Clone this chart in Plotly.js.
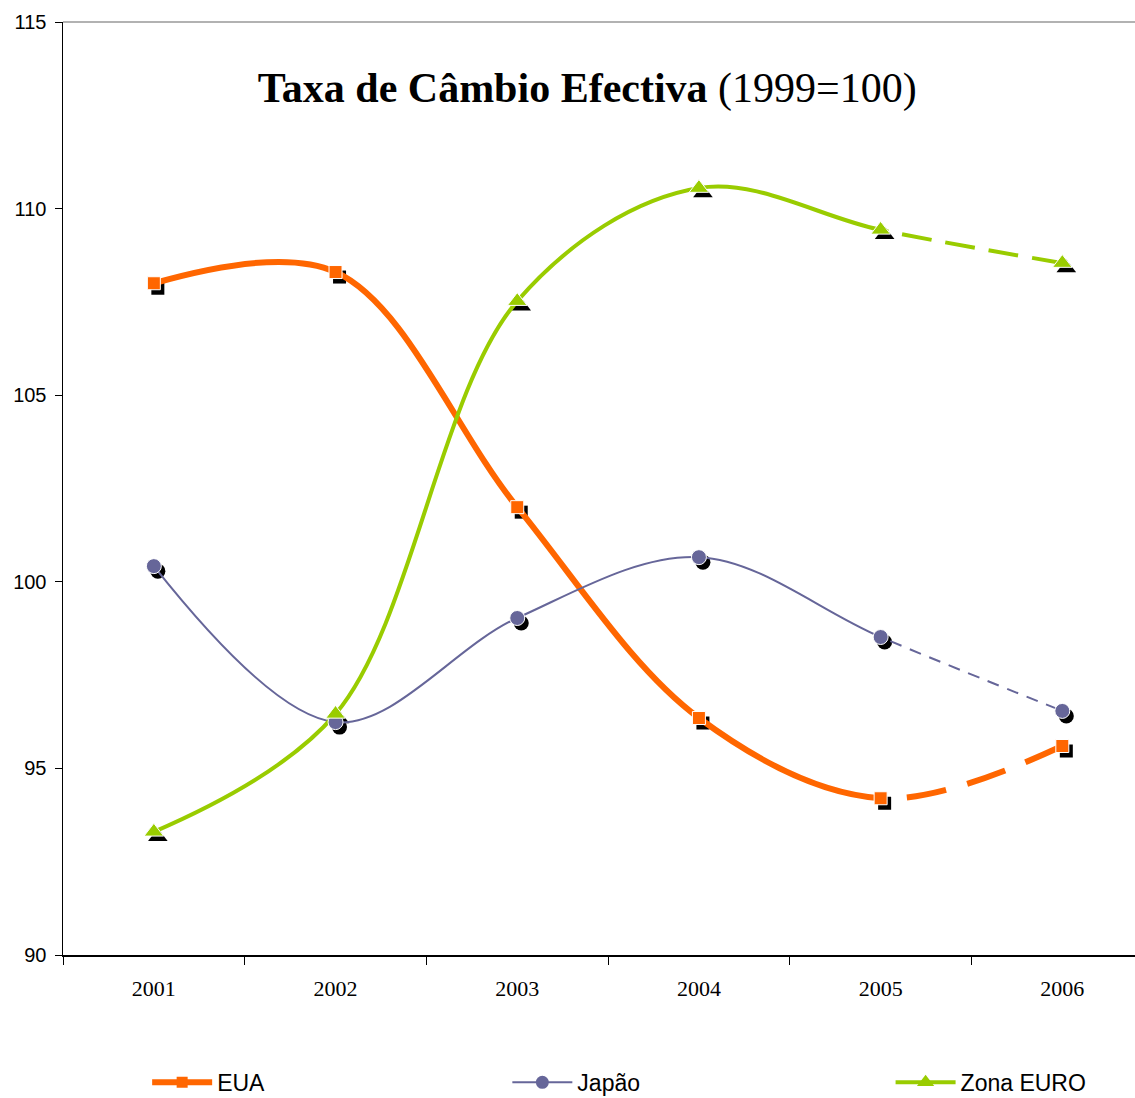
<!DOCTYPE html>
<html>
<head>
<meta charset="utf-8">
<script src="https://cdn.plot.ly/plotly-3.0.1.min.js"></script>
<style>html,body{margin:0;padding:0;background:#fff;overflow:hidden}</style>
</head>
<body>
<div id="chart" style="width:1135px;height:1098px"></div>
<script>
// ---- data ----
const years = [2001, 2002, 2003, 2004, 2005, 2006];
const eua = [108.0, 108.3, 102.0, 96.35, 94.2, 95.6];
const japao = [100.42, 96.24, 99.03, 100.66, 98.52, 96.54];
const zonaEuro = [93.3, 96.46, 107.52, 110.55, 109.43, 108.54];
const seriesNames = ['EUA', 'Japão', 'Zona EURO'];
const yTicks = [90, 95, 100, 105, 110, 115];
const titleBold = 'Taxa de Câmbio Efectiva';
const titleRest = '(1999=100)';

// ---- styling ----
const colors = ['#FF6600', '#666699', '#99CC00'];
const widths = [6, 2, 4];
const dashes = ['40px,22px', '12px,9px', '30px,14px'];
const symbols = ['square', 'circle', 'triangle-up'];
const sizes = [13, 15, 17];
const legendIds = ['legend', 'legend2', 'legend3'];
const legendX = [0.0785, 0.4145, 0.7720];
const allSeries = [eua, japao, zonaEuro];

const W = 1135, H = 1098;
const mL = 63, mR = 0, mT = 22, mB = 143;
const xMin = years[0] - 0.5, xMax = years[5] + 0.4;
const yMin = 90, yMax = 115;
const plotW = W - mL - mR, plotH = H - mT - mB;
const split = (years[4] - xMin) / (xMax - xMin);   // solid up to 2005, dashed after
const shX = 4, shY = 5; // shadow offset in px
const dx = shX * (xMax - xMin) / plotW;
const dy = shY * (yMax - yMin) / plotH;

const traces = [];
// shadows: subplot x2/y2 with shifted ranges (drawn first)
allSeries.forEach((vals, i) => {
  traces.push({
    x: years, y: vals, xaxis: 'x2', yaxis: 'y2', type: 'scatter', mode: 'markers',
    marker: {symbol: symbols[i], size: sizes[i], color: '#000000', line: {width: 0}},
    showlegend: false, hoverinfo: 'skip'
  });
});
// solid part: subplot x3/y clipped at 2005
allSeries.forEach((vals, i) => {
  traces.push({
    x: years, y: vals, xaxis: 'x3', yaxis: 'y', type: 'scatter', mode: 'lines+markers',
    name: seriesNames[i], legend: legendIds[i],
    line: {color: colors[i], width: widths[i], shape: 'spline', smoothing: 1},
    marker: {symbol: symbols[i], size: sizes[i] - 2, color: colors[i], line: {width: 0}},
    showlegend: true
  });
});
// dashed part: subplot x4/y from 2005 on
allSeries.forEach((vals, i) => {
  traces.push({
    x: years, y: vals, xaxis: 'x4', yaxis: 'y', type: 'scatter', mode: 'lines',
    line: {color: colors[i], width: widths[i], shape: 'spline', smoothing: 1, dash: dashes[i]},
    showlegend: false, hoverinfo: 'skip'
  });
});
// markers on top: subplot x5/y (visible axis)
allSeries.forEach((vals, i) => {
  traces.push({
    x: years, y: vals, xaxis: 'x5', yaxis: 'y', type: 'scatter', mode: 'markers',
    marker: {symbol: symbols[i], size: sizes[i], color: colors[i], line: {width: 1, color: '#ffffff'}},
    showlegend: false
  });
});

const legendBase = {
  orientation: 'h', yanchor: 'middle', xanchor: 'left', y: -0.1365,
  itemwidth: 60,
  font: {family: 'Liberation Sans, Arial, sans-serif', size: 23, color: '#000'},
  bgcolor: 'rgba(0,0,0,0)', borderwidth: 0
};

const hidden = {visible: false, fixedrange: true, showgrid: false, zeroline: false};

const layout = {
  width: W, height: H,
  margin: {l: mL, r: mR, t: mT, b: mB, pad: 0, autoexpand: false},
  paper_bgcolor: '#ffffff', plot_bgcolor: 'rgba(0,0,0,0)',
  showlegend: true,
  title: {
    text: '<b>' + titleBold + '</b> ' + titleRest,
    font: {family: 'Liberation Serif, Times New Roman, serif', size: 42, color: '#000'},
    x: 0.489, xref: 'paper', xanchor: 'center',
    y: 1 - 87 / H, yref: 'container', yanchor: 'middle'
  },
  xaxis2: Object.assign({range: [xMin - dx, xMax - dx], domain: [0, 1], anchor: 'y2'}, hidden),
  yaxis2: Object.assign({range: [yMin + dy, yMax + dy], domain: [0, 1], anchor: 'x2'}, hidden),
  xaxis3: Object.assign({range: [xMin, years[4]], domain: [0, split], anchor: 'y'}, hidden),
  xaxis4: Object.assign({range: [years[4], xMax], domain: [split, 1], anchor: 'y'}, hidden),
  xaxis5: {
    range: [xMin, xMax], domain: [0, 1], anchor: 'y',
    tickmode: 'array', tickvals: years, ticktext: years.map(String),
    ticks: '', showgrid: false, zeroline: false,
    showline: true, linecolor: '#000', linewidth: 1.5,
    tickfont: {family: 'Liberation Serif, Times New Roman, serif', size: 22, color: '#000'},
    ticklabelstandoff: 13,
    minor: {tickmode: 'linear', tick0: xMin, dtick: 1, ticks: 'outside', ticklen: 8, tickcolor: '#000', tickwidth: 1, showgrid: false},
    fixedrange: true
  },
  yaxis: {
    range: [yMin, yMax], domain: [0, 1], anchor: 'x5',
    tickmode: 'array', tickvals: yTicks,
    ticks: 'outside', ticklen: 7, tickcolor: '#000', tickwidth: 1,
    showline: true, linecolor: '#000', linewidth: 1.5,
    showgrid: false, zeroline: false,
    tickfont: {family: 'Liberation Sans, Arial, sans-serif', size: 20, color: '#000'},
    ticklabelstandoff: 4,
    fixedrange: true
  },
  legend: Object.assign({}, legendBase, {x: legendX[0]}),
  legend2: Object.assign({}, legendBase, {x: legendX[1]}),
  legend3: Object.assign({}, legendBase, {x: legendX[2]}),
  shapes: [{
    type: 'line', xref: 'paper', yref: 'paper', x0: 0, x1: 1, y0: 1, y1: 1,
    line: {color: '#999999', width: 1.5}
  }]
};

Plotly.newPlot('chart', traces, layout, {displayModeBar: false, staticPlot: true});
</script>
</body>
</html>
